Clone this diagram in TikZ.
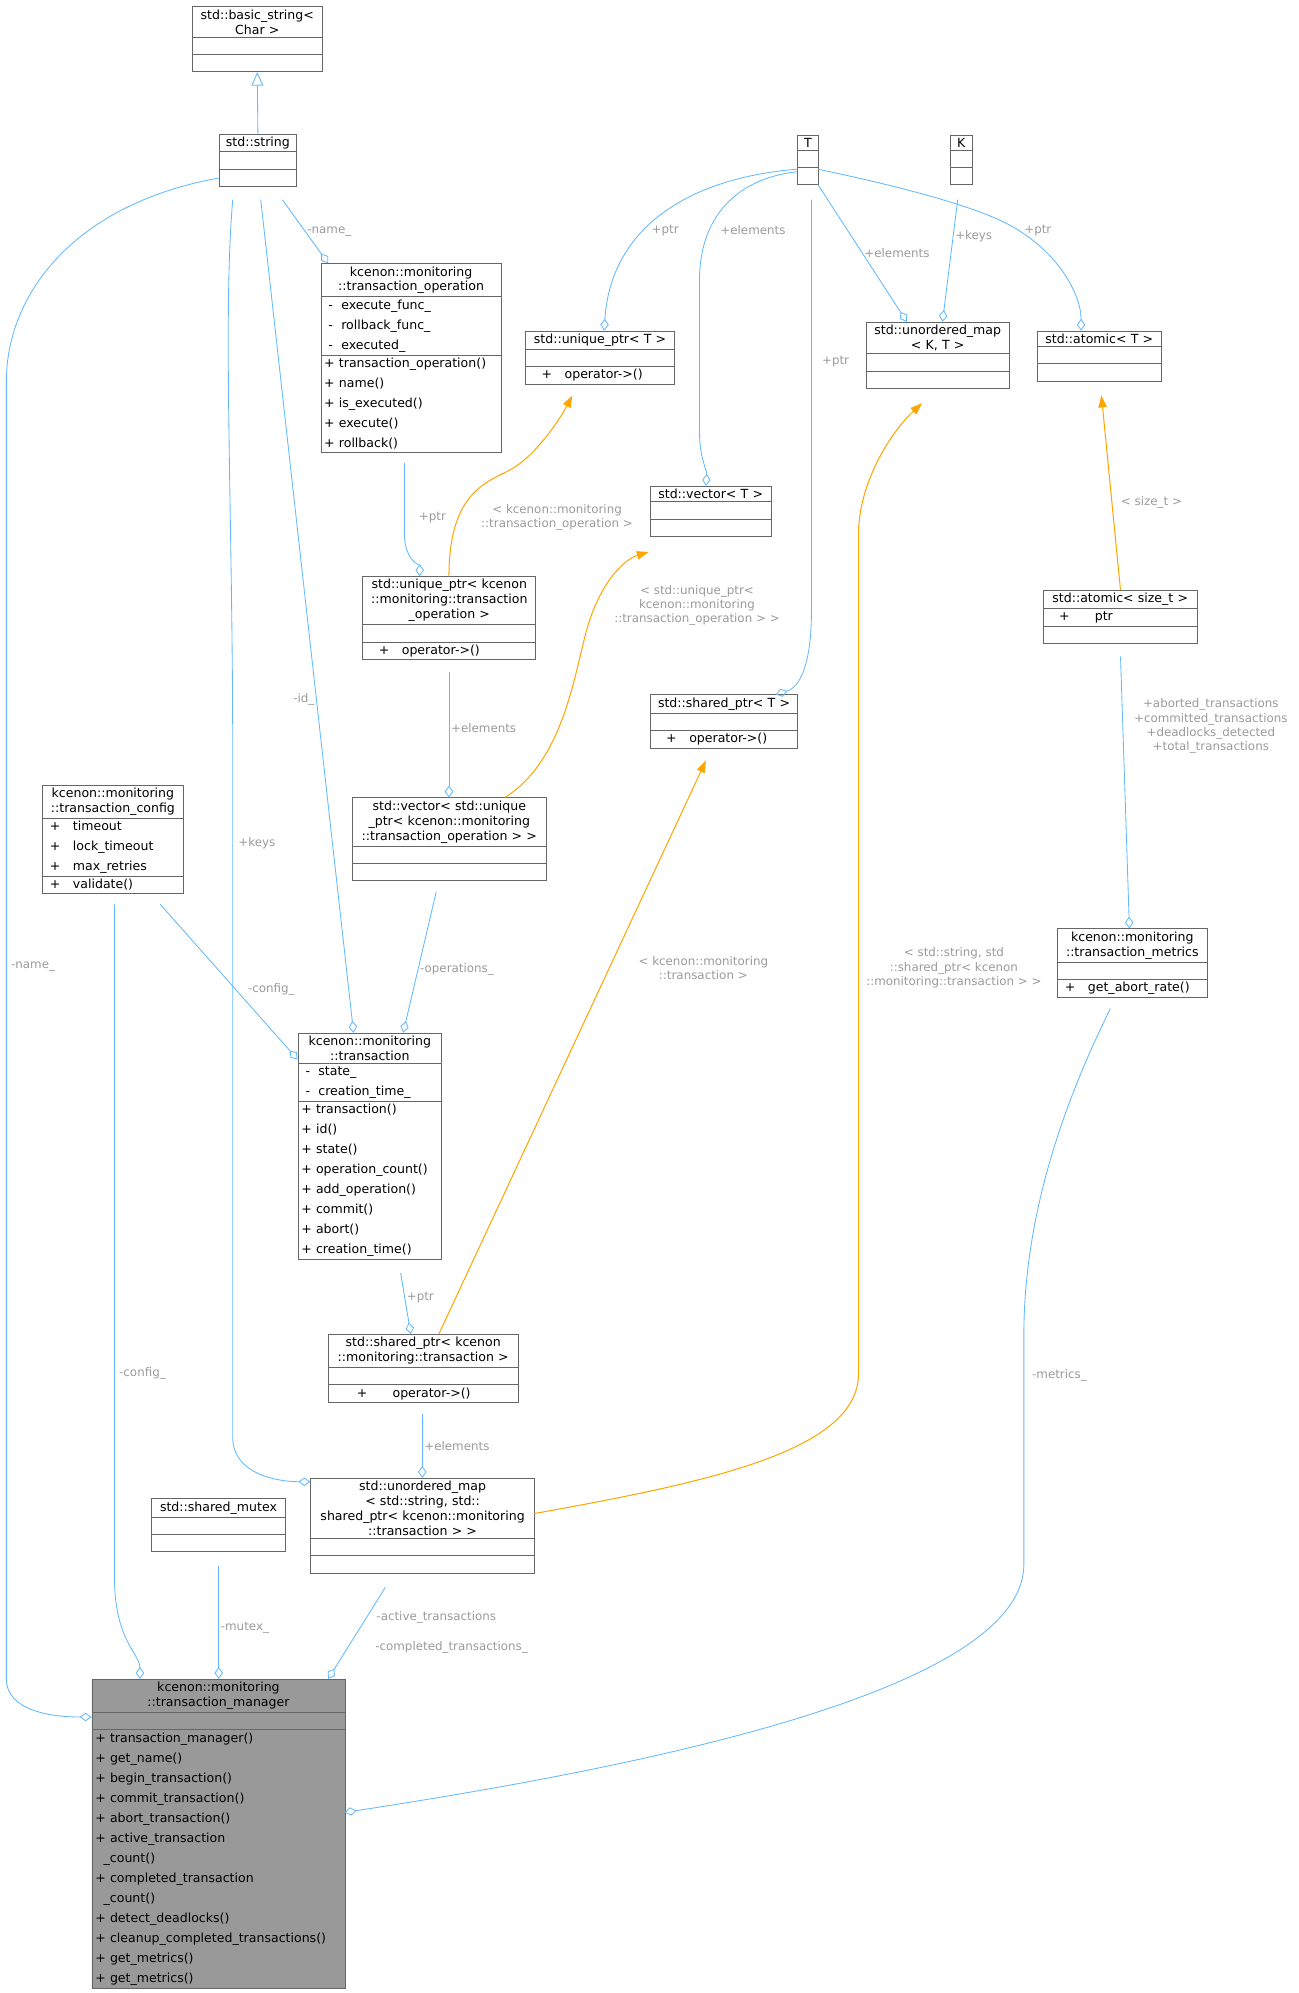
\documentclass[tikz,border=0pt]{standalone}
\usepackage{fontspec}
\setmainfont{DejaVu Sans}
\usetikzlibrary{arrows.meta,shapes.multipart}
\definecolor{eb}{HTML}{63B8FF}
\definecolor{eo}{HTML}{FFA500}
\definecolor{lg}{HTML}{9A9A9A}
\newcommand{\es}{\rule{0pt}{6.8pt}}
\tikzset{
 cls/.style={draw=black!60,rectangle split,rectangle split parts=3,fill=white,
   font=\fontsize{7.4}{11.8}\selectfont,inner xsep=2pt,inner ysep=1.5pt,align=left,anchor=north west},
 ag/.style={draw=eb,line width=0.5pt,-{Diamond[open,length=7pt,width=5pt]}},
 tp/.style={draw=eo,line width=0.6pt,-{Triangle[length=7pt,width=5pt,fill=eo]}},
 ih/.style={draw=eb,line width=0.5pt,-{Triangle[open,length=8pt,width=7pt]}},
 lb/.style={text=lg,font=\fontsize{7}{8.4}\selectfont,align=center,inner sep=1pt}
}
\newcommand{\cls}[8][white]{\pgfmathsetmacro\ww{#5*0.75-4}%
 \node[cls,fill=#1,text width=\ww pt,minimum height=0pt] (#2) at (#3,#4) {{\centering\fontsize{7.4}{8.8}\selectfont #6\par}\nodepart{two}#7\nodepart{three}#8};}
\begin{document}
\begin{tikzpicture}[x=0.75pt,y=-0.75pt]
\useasboundingbox (0,0) rectangle (1021,1567);
\cls{bs}{151}{5}{102}{std::basic\_string\textless\\Char \textgreater}{\es}{\es}
\cls{str}{172}{105}{61}{std::string}{\es}{\es}
\cls{T}{627}{106}{16}{T}{\es}{\es}
\cls{K}{747}{106}{17}{K}{\es}{\es}
\cls{op}{252}{207}{142}{kcenon::monitoring\\::transaction\_operation}{\ - \ execute\_func\_\\\ - \ rollback\_func\_\\\ - \ executed\_}{+ transaction\_operation()\\+ name()\\+ is\_executed()\\+ execute()\\+ rollback()}
\cls{upT}{413}{260}{117}{std::unique\_ptr\textless{} T \textgreater}{\es}{\quad+\quad operator-\textgreater()}
\cls{umKT}{681}{253}{112}{std::unordered\_map\\\textless{} K, T \textgreater}{\es}{\es}
\cls{atT}{815}{260}{98}{std::atomic\textless{} T \textgreater}{\es}{\es}
\cls{vT}{511}{382}{95}{std::vector\textless{} T \textgreater}{\es}{\es}
\cls{upk}{285}{453}{136}{std::unique\_ptr\textless{} kcenon\\::monitoring::transaction\\\_operation \textgreater}{\es}{\quad+\quad operator-\textgreater()}
\cls{ats}{820}{464}{121}{std::atomic\textless{} size\_t \textgreater}{\quad+\qquad ptr}{\es}
\cls{spT}{511}{546}{116}{std::shared\_ptr\textless{} T \textgreater}{\es}{\quad+\quad operator-\textgreater()}
\cls{cfg}{33}{617}{111}{kcenon::monitoring\\::transaction\_config}{\ + \ \ timeout\\\ + \ \ lock\_timeout\\\ + \ \ max\_retries}{\ + \ \ validate()}
\cls{vu}{277}{627}{152}{std::vector\textless{} std::unique\\\_ptr\textless{} kcenon::monitoring\\::transaction\_operation \textgreater{} \textgreater}{\es}{\es}
\cls{met}{831}{730}{118}{kcenon::monitoring\\::transaction\_metrics}{\es}{\ + \ \ get\_abort\_rate()}
\cls{tx}{234}{812}{113}{kcenon::monitoring\\::transaction}{\ - \ state\_\\\ - \ creation\_time\_}{+ transaction()\\+ id()\\+ state()\\+ operation\_count()\\+ add\_operation()\\+ commit()\\+ abort()\\+ creation\_time()}
\cls{spk}{258}{1049}{149}{std::shared\_ptr\textless{} kcenon\\::monitoring::transaction \textgreater}{\es}{\qquad+\qquad operator-\textgreater()}
\cls{mx}{119}{1178}{105}{std::shared\_mutex}{\es}{\es}
\cls{um}{244}{1162}{176}{std::unordered\_map\\\textless{} std::string, std::\\shared\_ptr\textless{} kcenon::monitoring\\::transaction \textgreater{} \textgreater}{\es}{\es}
\cls[black!40]{mgr}{72}{1320}{199}{kcenon::monitoring\\::transaction\_manager}{\es}{+ transaction\_manager()\\+ get\_name()\\+ begin\_transaction()\\+ commit\_transaction()\\+ abort\_transaction()\\+ active\_transaction\\\ \ \_count()\\+ completed\_transaction\\\ \ \_count()\\+ detect\_deadlocks()\\+ cleanup\_completed\_transactions()\\+ get\_metrics()\\+ get\_metrics()}
% edges
\draw[ih] (str.north) -- (bs.south);
\draw[ag] (222,157) -- node[lb,pos=0.5,right]{-name\_} (258,207);
\draw[ag] (205,157) -- node[lb,pos=0.6,left]{-id\_} (278,812);
\draw[ag] (183,157) .. controls (175,250) and (183,400) .. (183,600) -- (183,1130) .. controls (183,1160) and (220,1165) .. (244,1165);
\node[lb] at (202,663) {+keys};
\draw[ag] (172,140) .. controls (60,160) and (5,230) .. (5,300) -- (5,1320) .. controls (5,1345) and (40,1350) .. (72,1350);
\node[lb] at (26,760) {-name\_};
\draw[ag] (627,133) .. controls (540,140) and (480,180) .. (475,260);
\node[lb] at (523,181) {+ptr};
\draw[ag] (627,135) .. controls (580,140) and (550,170) .. (550,220) -- (550,340) .. controls (550,360) and (556,370) .. (555,382);
\node[lb] at (592,181) {+elements};
\draw[ag] (638,157) -- (638,480) .. controls (638,520) and (630,540) .. (610,546);
\node[lb] at (657,284) {+ptr};
\draw[ag] (643,145) -- node[lb,pos=0.5,right]{+elements} (713,253);
\draw[ag] (753,157) -- node[lb,pos=0.3,right]{+keys} (741,253);
\draw[ag] (643,133) .. controls (700,145) and (760,160) .. (790,175) .. controls (830,195) and (850,230) .. (850,260);
\node[lb] at (816,181) {+ptr};
\draw[ag] (318,364) -- (318,420) .. controls (318,440) and (330,445) .. (330,453);
\node[lb] at (340,407) {+ptr};
\draw[tp] (353,453) .. controls (353,390) and (380,380) .. (400,370) .. controls (420,360) and (440,330) .. (450,311);
\node[lb] at (438,407) {\textless{} kcenon::monitoring\\::transaction\_operation \textgreater};
\draw[tp] (397,627) .. controls (440,600) and (450,540) .. (460,500) .. controls (470,460) and (490,440) .. (510,434);
\node[lb] at (548,476) {\textless{} std::unique\_ptr\textless\\kcenon::monitoring\\::transaction\_operation \textgreater{} \textgreater};
\draw[ag] (353,528) -- node[lb,pos=0.45,right]{+elements} (353,627);
\draw[ag] (343,701) -- node[lb,pos=0.55,right]{-operations\_} (317,812);
\draw[ag] (126,711) -- node[lb,pos=0.55,right=6pt]{-config\_} (234,833);
\draw[ag] (90,711) -- (90,1240) .. controls (90,1290) and (110,1300) .. (110,1320);
\node[lb] at (112,1080) {-config\_};
\draw[tp] (881,464) -- node[lb,pos=0.45,right=4pt]{\textless{} size\_t \textgreater} (866,311);
\draw[ag] (881,516) -- (888,730);
\node[lb] at (952,571) {+aborted\_transactions\\+committed\_transactions\\+deadlocks\_detected\\+total\_transactions};
\draw[ag] (315,1001) -- node[lb,pos=0.4,right]{+ptr} (323,1049);
\draw[tp] (345,1049) -- (555,598);
\node[lb] at (553,761) {\textless{} kcenon::monitoring\\::transaction \textgreater};
\draw[ag] (332,1112) -- node[lb,pos=0.5,right]{+elements} (332,1162);
\draw[tp] (420,1190) .. controls (560,1165) and (675,1140) .. (675,1080) -- (675,420) .. controls (675,380) and (700,340) .. (725,317);
\node[lb] at (750,761) {\textless{} std::string, std\\::shared\_ptr\textless{} kcenon\\::monitoring::transaction \textgreater{} \textgreater};
\draw[ag] (172,1231) -- node[lb,pos=0.55,right]{-mutex\_} (172,1320);
\draw[ag] (303,1248) -- (258,1320);
\node[lb] at (343,1272) {-active\_transactions};
\node[lb] at (355,1295) {-completed\_transactions\_};
\draw[ag] (873,793) .. controls (840,860) and (805,950) .. (805,1050) -- (805,1230) .. controls (805,1330) and (500,1390) .. (271,1425);
\node[lb] at (833,1081) {-metrics\_};
\end{tikzpicture}
\end{document}
